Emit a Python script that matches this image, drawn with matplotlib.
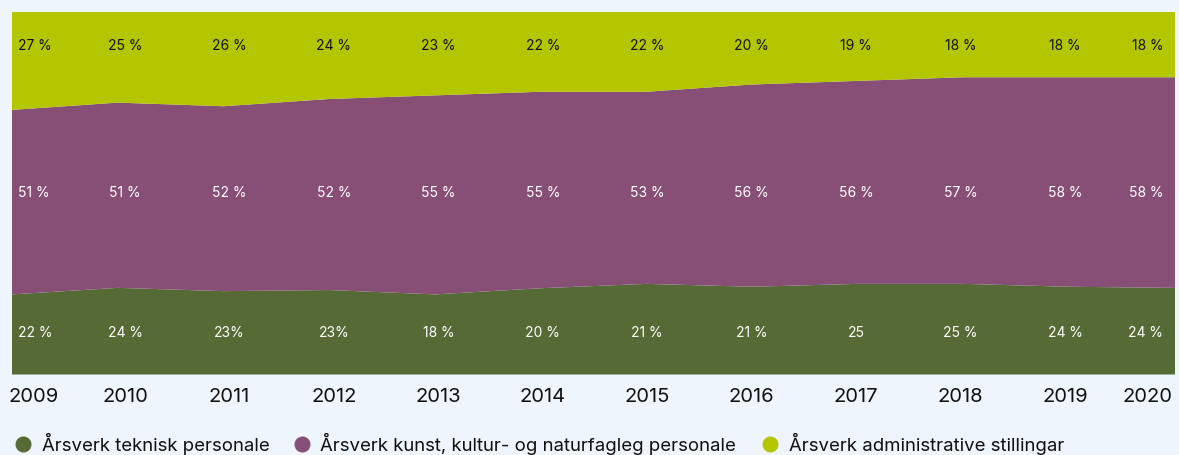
import matplotlib.pyplot as plt
import numpy as np
from matplotlib.lines import Line2D

years = [2009, 2010, 2011, 2012, 2013, 2014, 2015, 2016, 2017, 2018, 2019, 2020]

# area shares (%)
teknisk = [22.1, 23.9, 23.0, 23.3, 22.1, 23.8, 25.0, 24.2, 25.0, 25.0, 24.2, 23.9]
kunst = [50.9, 51.1, 51.0, 52.7, 54.9, 54.2, 53.0, 55.8, 56.0, 57.0, 57.8, 58.1]
admin = [27, 25, 26, 24, 23, 22, 22, 20, 19, 18, 18, 18]

# printed labels (as they stand in the chart)
lab_teknisk = ['22 %', '24 %', '23%', '23%', '18 %', '20 %', '21 %', '21 %', '25', '25 %', '24 %', '24 %']
lab_kunst = ['51 %', '51 %', '52 %', '52 %', '55 %', '55 %', '53 %', '56 %', '56 %', '57 %', '58 %', '58 %']
lab_admin = ['27 %', '25 %', '26 %', '24 %', '23 %', '22 %', '22 %', '20 %', '19 %', '18 %', '18 %', '18 %']

series_names = ['Årsverk teknisk personale',
                'Årsverk kunst, kultur- og naturfagleg personale',
                'Årsverk administrative stillingar']
colors = ['#566a36', '#874f75', '#b4c600']
bg = '#eef5fc'

plt.rcParams['font.family'] = ['Inter', 'DejaVu Sans']

W, H = 1179, 455
fig = plt.figure(figsize=(W / 100, H / 100), dpi=100, facecolor=bg)
L, R, T, B = 12, 1175, 12, 374.5
ax = fig.add_axes([L / W, 1 - B / H, (R - L) / W, (B - T) / H])
ax.set_facecolor(bg)

ax.stackplot(years, teknisk, kunst, admin, colors=colors, linewidth=0)
ax.set_xlim(years[0], years[-1])
ax.set_ylim(0, 100)
ax.set_xticks([])
ax.set_yticks([])
for s in ax.spines.values():
    s.set_visible(False)

# label x positions in pixels (first/last pulled inside the plot)
n = len(years)
mid_px = np.linspace(125, 1065, n - 2)


def px2ax(px):
    return (px - L) / (R - L)


for i in range(n):
    if i == 0:
        xa, ha = px2ax(18), 'left'
        xy, hay = px2ax(8), 'left'
    elif i == n - 1:
        xa, ha = px2ax(1163), 'right'
        xy, hay = px2ax(1173), 'right'
    else:
        xa, ha = px2ax(mid_px[i - 1]), 'center'
        xy, hay = xa, 'center'
    for lab, yv, col in [(lab_admin[i], 0.907, '#111111'),
                         (lab_kunst[i], 0.501, 'white'),
                         (lab_teknisk[i], 0.115, 'white')]:
        ax.text(xa, yv, lab, transform=ax.transAxes, ha=ha, va='center',
                fontsize=10, color=col)
    ax.text(xy, -(397 - B) / (B - T), str(years[i]), transform=ax.transAxes,
            ha=hay, va='center', fontsize=14.5, color='#111111')

# legend
leg_marker_px = [23, 302, 770]
leg_text_px = [42, 320, 789]
ly = 1 - 444 / H
for mx, tx, name, c in zip(leg_marker_px, leg_text_px, series_names, colors):
    fig.add_artist(Line2D([mx / W], [ly], marker='o', markersize=10.5,
                          color=c, linestyle='none', transform=fig.transFigure))
    fig.text(tx / W, ly, name, ha='left', va='center', fontsize=13.4, color='#111111')

fig.savefig('out.png', dpi=100, facecolor=bg)
